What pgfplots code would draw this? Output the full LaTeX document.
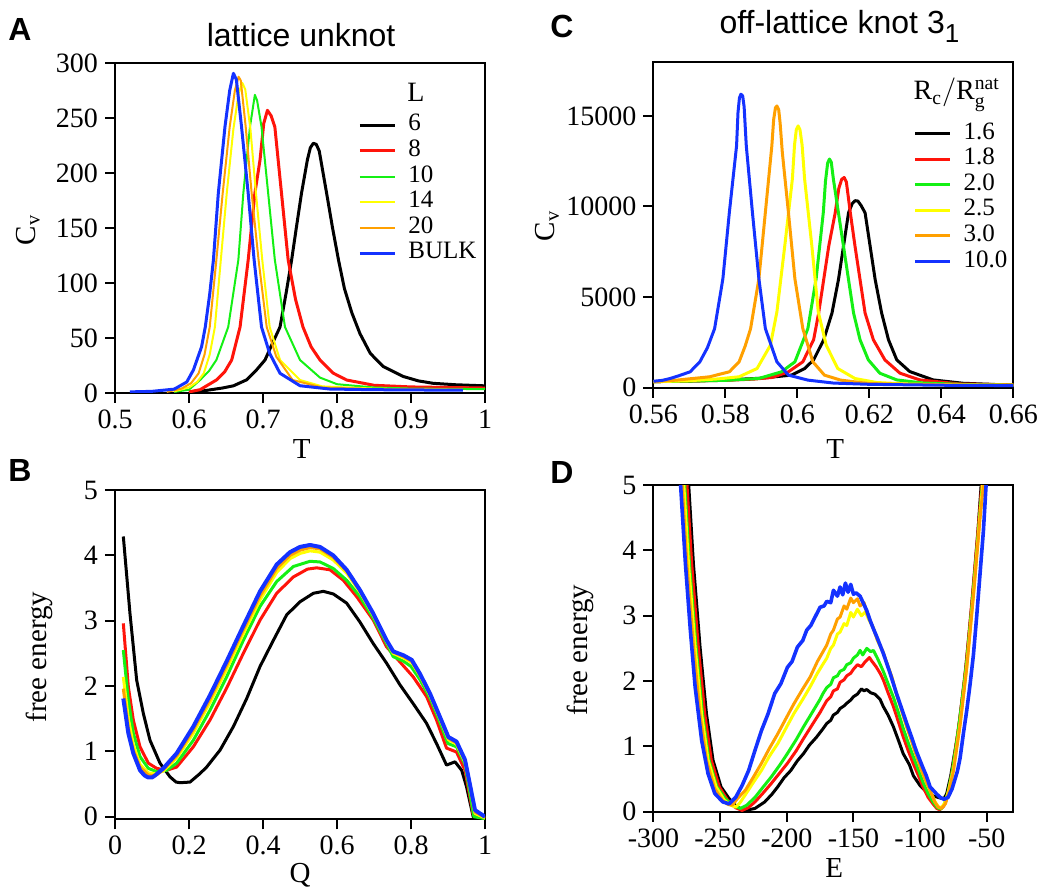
\documentclass[border=0pt]{standalone}
\usepackage{fontspec}
\setmainfont{Liberation Serif}
\setsansfont{Liberation Sans}
\setmathrm{Liberation Serif}
\usepackage{pgfplots}
\pgfplotsset{compat=1.18}

\definecolor{gRed}{RGB}{255,20,10}
\definecolor{gGreen}{RGB}{20,240,20}
\definecolor{gYellow}{RGB}{255,255,0}
\definecolor{gOrange}{RGB}{255,160,0}
\definecolor{gBlue}{RGB}{20,50,255}

\pgfplotsset{
  panel/.style={
    scale only axis,
    axis line style={line width=1pt},
    tick pos=left, tick align=outside, major tick length=5pt,
    every tick/.style={black, line width=1pt},
    tick label style={font=\fontsize{14}{16}\selectfont},
    /pgf/number format/assume math mode=true,
    /pgf/number format/1000 sep={},
    scaled x ticks=false, scaled y ticks=false,
    label style={font=\fontsize{14.5}{17}\selectfont},
    xlabel style={anchor=center},
    ylabel style={anchor=center},
    every axis title shift=0pt,
    title style={font=\sffamily\fontsize{16}{19}\selectfont, yshift=0pt},
    every axis plot/.append style={no markers, line join=round},
    legend cell align=left,
    legend image code/.code={\draw[##1] (0pt,0pt) -- (17.5pt,0pt);},
    legend style={draw=none, fill=none, inner sep=0pt, row sep=0pt,
      font=\fontsize{12.5}{13}\selectfont,
      nodes={inner sep=0pt, text height=9.2pt, text depth=3.6pt},
      /tikz/every odd column/.append style={column sep=6pt}},
  },
}

\begin{document}
\begin{tikzpicture}
\path[use as bounding box] (0,0) rectangle (526pt,446pt);

% panel letters
\begin{scope}[every node/.style={font=\sffamily\bfseries\fontsize{16}{18}\selectfont}]
  \node at (10pt,431pt) {A};
  \node at (281pt,432.5pt) {C};
  \node at (10pt,210.5pt) {B};
  \node at (281pt,209.5pt) {D};
\end{scope}

% ---------------- A: lattice unknot, Cv(T)
\begin{axis}[panel, at={(57.5pt,249.5pt)}, anchor=south west,
  width=185pt, height=165pt,
  xmin=0.5, xmax=1, ymin=0, ymax=300,
  xtick={0.5,0.6,0.7,0.8,0.9,1}, ytick={0,50,100,150,200,250,300},
  xlabel={T}, xlabel style={at={(axis description cs:0.505,-0.17)}},
  ylabel={$\mathrm{C_v}$}, ylabel style={at={(axis description cs:-0.235,0.494)}},
  title={lattice unknot}, title style={at={(axis description cs:0.503,1.049)}, anchor=base},
  legend style={at={(axis description cs:0.657,0.851)}, anchor=north west}]
\addplot[black, line width=1.5pt] coordinates {(0.60,1) (0.62,2) (0.645,4.5) (0.66,6.5) (0.678,12) (0.690,20) (0.7027,30) (0.712,44) (0.723,60) (0.731,90) (0.7387,121) (0.745,150) (0.752,181.5) (0.760,212) (0.764,223) (0.768,227) (0.772,226) (0.776,220) (0.786,181.5) (0.794,150) (0.802,121) (0.810,95) (0.820,73) (0.831,54) (0.845,36) (0.8626,24) (0.8896,15) (0.91,11) (0.93,8.8) (0.96,7.5) (1.0,6.5)};
\addlegendentry{6}
\addplot[gRed, line width=1.5pt] coordinates {(0.60,1) (0.615,3) (0.637,11.8) (0.648,19) (0.6577,30) (0.669,60) (0.680,121) (0.689,181.5) (0.696,212) (0.701,245) (0.706,257) (0.711,252) (0.716,242) (0.725,181.5) (0.734,121) (0.744,85) (0.754,60) (0.765,42) (0.777,30) (0.795,18) (0.813,11.8) (0.85,7) (0.9,5.5) (1.0,4.5)};
\addlegendentry{8}
\addplot[gGreen, line width=1pt] coordinates {(0.58,1) (0.60,3) (0.615,11.8) (0.627,20) (0.637,30) (0.653,60) (0.6667,121) (0.6734,181.5) (0.6824,242) (0.689,271) (0.692,266) (0.698,242) (0.707,181.5) (0.716,121) (0.7297,60) (0.75,30) (0.777,14) (0.80,8) (0.85,5) (0.9,4) (1.0,3.5)};
\addlegendentry{10}
\addplot[gYellow, line width=1pt] coordinates {(0.58,1.5) (0.60,5) (0.611,10) (0.620,17.9) (0.628,35) (0.635,60) (0.643,121) (0.651,181.5) (0.660,240) (0.667,272) (0.672,282) (0.676,276) (0.683,240) (0.6905,181.5) (0.699,121) (0.709,60) (0.723,30) (0.75,11.8) (0.78,6) (0.85,4) (0.97,3)};
\addlegendentry{14}
\addplot[gOrange, line width=1pt] coordinates {(0.57,1) (0.59,4) (0.603,9) (0.613,17.9) (0.621,35) (0.628,60) (0.637,121) (0.6455,181.5) (0.655,242) (0.662,275) (0.667,287.5) (0.670,284) (0.6766,242) (0.6847,181.5) (0.694,121) (0.705,60) (0.718,33) (0.74,11.8) (0.78,5) (0.85,3.5) (0.97,3)};
\addlegendentry{20}
\addplot[gBlue, line width=1.5pt] coordinates {(0.52,1) (0.55,1.5) (0.58,3.5) (0.597,10) (0.606,21) (0.617,42) (0.622,60) (0.628,90) (0.633,121) (0.6396,181.5) (0.6486,242) (0.655,275) (0.660,290.6) (0.664,285) (0.671,242) (0.680,181.5) (0.688,121) (0.698,60) (0.709,36) (0.723,17.9) (0.75,6.6) (0.79,3.6) (0.85,3) (0.97,2.5)};
\addlegendentry{BULK}
\node[anchor=base west, inner sep=0pt, font=\fontsize{14}{16}\selectfont] at (axis description cs:0.789,0.883) {L};
\end{axis}

% ---------------- C: off-lattice knot 3_1, Cv(T)
\begin{axis}[panel, at={(326.7pt,252.2pt)}, anchor=south west,
  width=180pt, height=163pt,
  xmin=0.56, xmax=0.66, ymin=0, ymax=18000,
  xtick={0.56,0.58,0.6,0.62,0.64,0.66}, ytick={0,5000,10000,15000},
  xlabel={T}, xlabel style={at={(axis description cs:0.505,-0.188)}},
  ylabel={$\mathrm{C_v}$}, ylabel style={at={(axis description cs:-0.295,0.496)}},
  title={off-lattice knot 3\raisebox{-4.5pt}{\fontsize{13}{15}\selectfont 1}},
  title style={at={(axis description cs:0.1825,1.087)}, anchor=base west, inner sep=0pt},
  legend style={at={(axis description cs:0.722,0.82)}, anchor=north west}]
\addplot[black, line width=1.5pt] coordinates {(0.56,330) (0.57,360) (0.58,420) (0.59,520) (0.5984,690) (0.602,1050) (0.6045,1530) (0.6073,2640) (0.6096,4114) (0.6114,5960) (0.6128,7804) (0.6142,9650) (0.6152,10150) (0.6160,10320) (0.6168,10300) (0.6177,10050) (0.6188,9650) (0.6202,7804) (0.6216,5960) (0.6234,4114) (0.6253,2640) (0.6276,1530) (0.6312,886) (0.6377,424) (0.646,240) (0.655,170) (0.66,150)};
\addlegendentry{1.6}
\addplot[gRed, line width=1.5pt] coordinates {(0.56,330) (0.57,360) (0.58,400) (0.588,470) (0.593,560) (0.5975,872) (0.6015,1422) (0.6045,2640) (0.6059,4114) (0.6073,5960) (0.6087,7804) (0.6105,9650) (0.6115,11000) (0.6123,11500) (0.6130,11600) (0.6136,11350) (0.6147,9650) (0.6160,7804) (0.6174,5960) (0.6188,4114) (0.6211,2640) (0.6243,1530) (0.6285,793) (0.634,424) (0.645,200) (0.66,150)};
\addlegendentry{1.8}
\addplot[gGreen, line width=1.5pt] coordinates {(0.56,330) (0.57,360) (0.58,400) (0.5893,505) (0.5956,872) (0.5993,1422) (0.6029,3257) (0.6052,6010) (0.6072,9680) (0.6078,11400) (0.6084,12400) (0.6089,12620) (0.6094,12450) (0.6100,11500) (0.6114,9650) (0.6128,7804) (0.6142,5960) (0.6156,4114) (0.6174,2640) (0.6197,1530) (0.6229,793) (0.6276,424) (0.635,250) (0.65,150) (0.66,140)};
\addlegendentry{2.0}
\addplot[gYellow, line width=1.5pt] coordinates {(0.56,320) (0.57,380) (0.578,480) (0.5838,596) (0.5888,1055) (0.5925,2340) (0.5943,4175) (0.5965,7845) (0.5986,11515) (0.5992,13400) (0.5997,14250) (0.6002,14450) (0.6007,14250) (0.6013,13400) (0.6020,11515) (0.6040,7845) (0.6058,4175) (0.6080,2340) (0.6112,1055) (0.616,500) (0.622,280) (0.63,200) (0.645,150) (0.66,130)};
\addlegendentry{2.5}
\addplot[gOrange, line width=1.5pt] coordinates {(0.56,330) (0.5665,413) (0.5756,596) (0.5811,872) (0.5838,1422) (0.5855,2300) (0.5870,3257) (0.5893,6010) (0.5911,9680) (0.5929,13350) (0.5934,14800) (0.5939,15450) (0.5943,15550) (0.5948,15350) (0.5952,14600) (0.5958,13000) (0.5975,9680) (0.5993,6010) (0.6015,3257) (0.6043,1422) (0.6075,688) (0.6120,413) (0.62,220) (0.64,150) (0.66,130)};
\addlegendentry{3.0}
\addplot[gBlue, line width=1.5pt] coordinates {(0.56,350) (0.5625,400) (0.5647,505) (0.567,650) (0.5702,872) (0.5729,1422) (0.5750,2200) (0.5770,3257) (0.5793,6010) (0.5811,9680) (0.5831,13350) (0.5835,15200) (0.5839,16000) (0.5843,16200) (0.5848,16100) (0.5852,15500) (0.5858,13350) (0.5875,9680) (0.5893,6010) (0.5911,3257) (0.5943,1422) (0.5975,688) (0.6029,413) (0.61,250) (0.62,180) (0.64,130) (0.66,110)};
\addlegendentry{10.0}
\node[anchor=base west, inner sep=0pt, font=\fontsize{14}{16}\selectfont] at (axis description cs:0.722,0.8825) {$\mathrm{R_c/R_g^{nat}}$};
\end{axis}

% ---------------- B: lattice free energy vs Q
\begin{axis}[panel, at={(57.5pt,36.35pt)}, anchor=south west,
  width=185pt, height=164.6pt,
  xmin=0, xmax=1, ymin=-0.04, ymax=5,
  xtick={0,0.2,0.4,0.6,0.8,1}, ytick={0,1,2,3,4,5},
  xlabel={Q}, xlabel style={at={(axis description cs:0.5,-0.169)}},
  ylabel={free energy}, ylabel style={at={(axis description cs:-0.205,0.493)}}]
\addplot[black, line width=1.5pt] coordinates {(0.0225,4.29) (0.0405,3.11) (0.0586,2.09) (0.0766,1.58) (0.0946,1.17) (0.1216,0.82) (0.1486,0.61) (0.165,0.53) (0.1757,0.52) (0.2027,0.53) (0.2297,0.66) (0.2477,0.76) (0.284,1.02) (0.32,1.38) (0.356,1.81) (0.392,2.30) (0.428,2.70) (0.464,3.09) (0.5,3.29) (0.536,3.42) (0.563,3.45) (0.59,3.41) (0.626,3.27) (0.662,2.98) (0.698,2.65) (0.734,2.35) (0.77,2.02) (0.806,1.73) (0.842,1.43) (0.869,1.12) (0.896,0.79) (0.919,0.84) (0.937,0.71) (0.95,0.46) (0.968,0.0) (1.0,-0.03)};
\addplot[gRed, line width=1.5pt] coordinates {(0.0225,2.96) (0.036,1.99) (0.0495,1.48) (0.0676,1.07) (0.09,0.82) (0.1126,0.74) (0.1396,0.71) (0.1667,0.76) (0.2117,1.07) (0.2568,1.48) (0.3018,1.97) (0.3468,2.5) (0.392,3.01) (0.437,3.42) (0.482,3.67) (0.52,3.79) (0.545,3.81) (0.581,3.78) (0.617,3.62) (0.653,3.37) (0.698,3.01) (0.734,2.60) (0.77,2.37) (0.806,2.14) (0.842,1.84) (0.869,1.48) (0.896,1.05) (0.923,0.99) (0.946,0.71) (0.968,0.03) (1.0,-0.03)};
\addplot[gGreen, line width=1.5pt] coordinates {(0.0225,2.55) (0.036,1.79) (0.0495,1.28) (0.0676,0.92) (0.09,0.74) (0.1126,0.69) (0.1396,0.71) (0.1667,0.82) (0.2117,1.17) (0.2568,1.63) (0.3018,2.14) (0.3468,2.70) (0.392,3.22) (0.437,3.6) (0.482,3.83) (0.527,3.91) (0.554,3.9) (0.59,3.8) (0.626,3.62) (0.662,3.37) (0.698,3.04) (0.734,2.65) (0.752,2.45) (0.78,2.38) (0.8,2.3) (0.824,2.1) (0.851,1.82) (0.878,1.45) (0.9,1.12) (0.923,1.07) (0.946,0.8) (0.97,0.0) (1.0,-0.03)};
\addplot[gYellow, line width=1.5pt] coordinates {(0.0225,2.14) (0.036,1.5) (0.0495,1.1) (0.0676,0.8) (0.09,0.67) (0.1126,0.66) (0.1306,0.7) (0.1667,0.9) (0.2117,1.28) (0.2568,1.75) (0.3018,2.26) (0.3468,2.8) (0.392,3.32) (0.437,3.74) (0.473,3.95) (0.5,4.03) (0.527,4.07) (0.554,4.05) (0.59,3.93) (0.626,3.73) (0.662,3.44) (0.698,3.08) (0.734,2.68) (0.752,2.5) (0.78,2.43) (0.802,2.36) (0.824,2.16) (0.851,1.86) (0.878,1.5) (0.901,1.18) (0.923,1.11) (0.946,0.83) (0.973,0.05) (1.0,-0.02)};
\addplot[gOrange, line width=1.5pt] coordinates {(0.0225,1.96) (0.036,1.36) (0.0495,1.02) (0.0676,0.76) (0.09,0.64) (0.1,0.63) (0.1126,0.64) (0.1306,0.72) (0.1667,0.93) (0.2117,1.33) (0.2568,1.8) (0.3018,2.32) (0.3468,2.86) (0.392,3.38) (0.437,3.8) (0.473,4.0) (0.5,4.08) (0.527,4.12) (0.554,4.1) (0.59,3.97) (0.626,3.76) (0.662,3.46) (0.698,3.1) (0.734,2.69) (0.752,2.52) (0.78,2.45) (0.802,2.38) (0.824,2.17) (0.851,1.87) (0.878,1.51) (0.901,1.2) (0.923,1.13) (0.946,0.85) (0.973,0.07) (1.0,-0.01)};
\addplot[gBlue, line width=2pt] coordinates {(0.0225,1.81) (0.036,1.28) (0.0495,0.97) (0.0676,0.71) (0.08,0.63) (0.09,0.6) (0.1,0.6) (0.108,0.63) (0.1306,0.74) (0.1667,0.97) (0.2117,1.38) (0.2568,1.86) (0.3018,2.38) (0.3468,2.92) (0.392,3.45) (0.437,3.86) (0.473,4.05) (0.5,4.13) (0.527,4.16) (0.554,4.13) (0.59,4.0) (0.626,3.78) (0.662,3.47) (0.698,3.11) (0.734,2.70) (0.752,2.53) (0.78,2.47) (0.802,2.40) (0.824,2.19) (0.851,1.89) (0.878,1.53) (0.901,1.22) (0.923,1.15) (0.946,0.87) (0.973,0.10) (1.0,0.0)};
\end{axis}

% ---------------- D: off-lattice free energy vs E
\begin{axis}[panel, at={(326.7pt,40.15pt)}, anchor=south west,
  width=180pt, height=163.3pt,
  xmin=-300, xmax=-30, ymin=0, ymax=5,
  xtick={-300,-250,-200,-150,-100,-50}, ytick={0,1,2,3,4,5},
  xlabel={E}, xlabel style={at={(axis description cs:0.502,-0.171)}},
  ylabel={free energy}, ylabel style={at={(axis description cs:-0.204,0.495)}}]
\addplot[black, line width=1.5pt] coordinates {(-273.5,5) (-270,3.8) (-265,2.52) (-260.2,1.5) (-255.3,0.79) (-249.3,0.38) (-243.2,0.2) (-237,0.07) (-231,0.02) (-223.8,0.05) (-216.5,0.15) (-211,0.27) (-206.8,0.38) (-202,0.52) (-197,0.63) (-192,0.78) (-187.4,0.89) (-183,1.02) (-177.7,1.14) (-172.8,1.27) (-170,1.35) (-167,1.40) (-165,1.48) (-162,1.52) (-160,1.58) (-157,1.62) (-155,1.66) (-152,1.71) (-150,1.76) (-147,1.80) (-144,1.88) (-142,1.85) (-140,1.87) (-137,1.82) (-134,1.80) (-130,1.72) (-127.6,1.61) (-124,1.48) (-120,1.30) (-116,1.08) (-112.7,0.89) (-108,0.72) (-105,0.55) (-100,0.40) (-95,0.30) (-90,0.24) (-85,0.21) (-82,0.2) (-80,0.28) (-77,0.55) (-71.6,1.2) (-66.7,2.0) (-61.7,3.04) (-56.7,4.26) (-54.2,5)};
\addplot[gRed, line width=1.5pt] coordinates {(-274.8,5) (-271.3,3.8) (-266.3,2.52) (-261.5,1.5) (-256.6,0.79) (-250.6,0.38) (-244.5,0.18) (-238.3,0.06) (-233.5,0.02) (-229,0.06) (-223.8,0.15) (-218,0.28) (-211.7,0.43) (-205,0.6) (-199.5,0.74) (-193,0.93) (-187.4,1.12) (-180,1.36) (-175,1.52) (-172.8,1.6) (-170,1.7) (-167,1.76) (-165,1.85) (-162,1.88) (-160,1.98) (-157,2.02) (-155,2.08) (-152,2.12) (-150,2.18) (-147,2.25) (-144,2.22) (-141,2.30) (-138,2.36) (-136,2.30) (-133,2.22) (-130,2.12) (-127.6,2.02) (-124,1.82) (-120,1.61) (-116,1.36) (-112.7,1.15) (-109,0.94) (-105.2,0.74) (-101,0.54) (-97.8,0.38) (-94,0.22) (-90.3,0.12) (-87.5,0.05) (-85.3,0.03) (-82.5,0.08) (-80.3,0.18) (-78,0.38) (-75.4,0.69) (-70.4,1.40) (-65.4,2.27) (-60.4,3.39) (-55.5,4.57) (-53.7,5)};
\addplot[gGreen, line width=1.5pt] coordinates {(-276.5,5) (-273,3.8) (-268,2.52) (-263.2,1.5) (-258.3,0.79) (-252.3,0.38) (-246.2,0.2) (-240,0.09) (-234.7,0.05) (-230,0.1) (-223.8,0.22) (-218,0.37) (-211.7,0.53) (-205,0.72) (-199.5,0.89) (-193,1.1) (-187.4,1.3) (-180,1.55) (-175,1.72) (-172.8,1.81) (-170,1.9) (-167,1.95) (-165,2.05) (-162,2.08) (-160,2.15) (-157,2.18) (-155,2.25) (-152,2.28) (-150,2.35) (-147,2.40) (-145,2.47) (-143,2.40) (-140,2.50) (-137,2.45) (-135,2.47) (-132,2.35) (-127.6,2.15) (-124,1.96) (-120,1.75) (-116,1.50) (-112.7,1.28) (-109,1.06) (-105.2,0.85) (-101,0.63) (-97.8,0.45) (-94,0.28) (-90.3,0.15) (-87,0.06) (-84.5,0.04) (-82,0.1) (-79,0.3) (-76,0.6) (-73,1.0) (-70,1.45) (-65,2.3) (-60,3.4) (-55,4.6) (-53.3,5)};
\addplot[gYellow, line width=1.5pt] coordinates {(-277.2,5) (-273.7,3.8) (-268.7,2.52) (-263.9,1.5) (-259,0.79) (-253,0.38) (-247,0.18) (-242,0.1) (-238.3,0.07) (-235,0.14) (-231,0.26) (-225,0.45) (-219,0.63) (-213,0.85) (-206.8,1.04) (-200,1.3) (-194.7,1.5) (-188,1.72) (-182.5,1.91) (-177,2.12) (-172.8,2.26) (-170,2.35) (-167,2.5) (-165,2.55) (-162,2.72) (-160,2.75) (-157,2.88) (-155,2.85) (-152,3.05) (-150,2.98) (-147,3.1) (-144,3.0) (-141,3.06) (-138,2.92) (-135,2.82) (-132,2.62) (-128,2.45) (-125,2.28) (-121,2.05) (-117.7,1.80) (-114,1.56) (-110,1.30) (-106,1.06) (-102.7,0.86) (-99,0.64) (-95.3,0.45) (-92,0.3) (-89,0.16) (-86.5,0.08) (-84,0.06) (-81,0.15) (-78.5,0.33) (-75,0.65) (-70,1.35) (-65,2.22) (-60,3.32) (-55,4.55) (-53,5)};
\addplot[gOrange, line width=1.5pt] coordinates {(-278.4,5) (-274.9,3.8) (-269.9,2.52) (-265.1,1.5) (-260.2,0.79) (-254.2,0.36) (-248,0.17) (-244,0.11) (-240.8,0.1) (-237,0.2) (-231,0.33) (-225,0.53) (-219,0.74) (-213,0.97) (-206.8,1.19) (-200,1.45) (-194.7,1.65) (-188,1.88) (-182.5,2.06) (-177,2.3) (-172.8,2.45) (-170,2.55) (-167,2.72) (-165,2.78) (-162,2.95) (-160,2.98) (-157,3.15) (-155,3.1) (-152,3.27) (-150,3.2) (-147,3.26) (-145,3.15) (-142,3.2) (-140,3.05) (-137.5,2.93) (-135,2.8) (-132,2.63) (-128,2.46) (-125,2.28) (-121,2.05) (-117.7,1.80) (-114,1.56) (-110,1.30) (-106,1.06) (-102.7,0.85) (-99,0.64) (-95.3,0.45) (-92,0.3) (-89,0.15) (-86.5,0.07) (-84,0.05) (-81,0.12) (-78.5,0.3) (-75,0.62) (-70,1.32) (-65,2.2) (-60,3.3) (-55,4.5) (-52.5,5)};
\addplot[gBlue, line width=1.8pt] coordinates {(-279.6,5) (-276,3.8) (-272.3,2.78) (-268.7,1.91) (-263.8,1.09) (-259,0.58) (-254,0.28) (-248,0.15) (-243.2,0.12) (-238.3,0.22) (-233.5,0.40) (-228.6,0.63) (-223.8,0.94) (-219,1.24) (-214,1.5) (-209,1.81) (-204.4,1.96) (-199.5,2.21) (-196,2.3) (-192,2.52) (-188,2.62) (-185,2.78) (-182,2.85) (-180,2.93) (-177,3.05) (-175,3.13) (-172,3.15) (-170,3.22) (-167,3.2) (-165,3.39) (-162,3.30) (-160,3.44) (-158,3.32) (-156,3.50) (-154,3.36) (-152,3.48) (-150,3.33) (-148,3.35) (-145,3.3) (-142.5,3.19) (-140,3.08) (-137.5,2.93) (-135,2.8) (-132.5,2.68) (-130,2.55) (-127.5,2.42) (-125,2.27) (-122.5,2.12) (-117.7,1.81) (-112.5,1.5) (-110,1.35) (-106,1.12) (-102.7,0.92) (-98,0.68) (-95.3,0.55) (-92.5,0.38) (-88,0.28) (-85,0.22) (-82,0.19) (-79,0.22) (-76,0.35) (-72,0.62) (-70,0.82) (-67.5,1.2) (-65,1.55) (-62.5,1.95) (-60,2.4) (-57.5,3.0) (-55,3.65) (-52.5,4.3) (-50.5,5)};
\end{axis}
\end{tikzpicture}
\end{document}
